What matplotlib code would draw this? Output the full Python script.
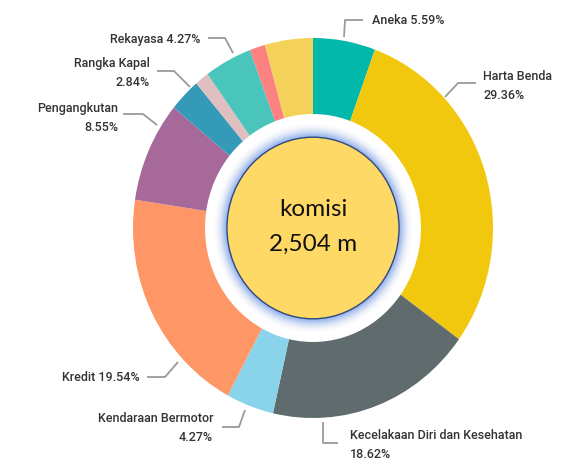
import matplotlib
matplotlib.use("Agg")
import matplotlib.pyplot as plt
from matplotlib.patches import Circle

categories = ["Aneka", "Harta Benda", "Kecelakaan Diri dan Kesehatan", "Kendaraan Bermotor",
              "Kredit", "Pengangkutan", "Rangka Kapal", "Lainnya A", "Rekayasa", "Lainnya B", "Lainnya C"]
values = [5.59, 29.36, 18.62, 4.27, 19.54, 8.55, 2.84, 1.26, 4.27, 1.40, 4.30]
colors = ["#01B8AA", "#F2C80F", "#5F6B6D", "#8AD4EB", "#FE9666", "#A66999",
          "#3599B8", "#DFBFBF", "#4AC5BB", "#FB8281", "#F4D25A"]
label_texts = ["Aneka 5.59%", "Harta Benda\n29.36%", "Kecelakaan Diri dan Kesehatan\n18.62%",
               "Kendaraan Bermotor\n4.27%", "Kredit 19.54%", "Pengangkutan\n8.55%",
               "Rangka Kapal\n2.84%", "", "Rekayasa 4.27%", "", ""]
center_title = "komisi"
center_value = "2,504 m"

W, H = 585, 461
fig = plt.figure(figsize=(W / 100, H / 100), dpi=100)
fig.patch.set_facecolor("white")

# pie axes (pixel box of the donut)
cx, cy, rx, ry = 313, 228, 180, 190
pax = fig.add_axes([(cx - rx) / W, (H - (cy + ry)) / H, 2 * rx / W, 2 * ry / H])
pax.pie(values, colors=colors, startangle=90, counterclock=False, radius=1.0,
        wedgeprops=dict(width=0.40, linewidth=0))
pax.set_aspect("auto")
pax.set_xlim(-1, 1)
pax.set_ylim(-1, 1)
pax.axis("off")

# glow and center circle
r_in = 0.478
n = 16
for i in range(n):
    r = 0.55 - (0.55 - r_in) * i / n
    a = 0.04 + 0.6 * (i / n) ** 2
    pax.add_patch(Circle((0, 0), r, facecolor="#7FA3EE", edgecolor="none", alpha=a * 0.4))
pax.add_patch(Circle((0, 0), r_in, facecolor="#FFD966", edgecolor="#2F4A7A", linewidth=1.0, zorder=5))
pax.text(0, 0.095, center_title, ha="center", va="center", fontsize=17.5, family="Lato", color="#111111", zorder=6)
pax.text(0, -0.085, center_value, ha="center", va="center", fontsize=17.5, family="Lato", color="#111111", zorder=6)

# overlay axes in pixel coordinates for labels
ax = fig.add_axes([0, 0, 1, 1])
ax.set_xlim(0, W)
ax.set_ylim(H, 0)
ax.axis("off")
ax.patch.set_alpha(0)

lc = "#9A9A9A"
lw = 1.3
tc = "#333333"
fs = 9.0
fam = "Roboto"

# leader lines (pixel paths)
leaders = {
    0: ([344, 345, 363], [37, 20, 20]),
    1: ([445, 458, 476], [97, 83, 83]),
    2: ([323, 323, 338], [422, 443, 443]),
    3: ([245, 239, 222], [410, 427, 427]),
    4: ([178, 165, 147], [362, 377, 377]),
    5: ([157, 143, 123], [125, 114, 114]),
    6: ([190, 174, 157], [87, 71, 71]),
    8: ([233, 225, 208], [53, 38, 38]),
}
for k, (xs, ys) in leaders.items():
    ax.plot(xs, ys, color=lc, lw=lw, solid_capstyle="butt")

text_pos = {
    0: (372, 21, "left"),
    1: (483, 86, "left"),
    2: (350, 445, "left"),
    3: (213, 428, "right"),
    4: (140, 377, "right"),
    5: (118, 118, "right"),
    6: (150, 73, "right"),
    8: (200, 39, "right"),
}
for k, (x, y, ha) in text_pos.items():
    ax.text(x, y, label_texts[k], ha=ha, va="center", fontsize=fs, family=fam,
            fontweight="medium", color=tc, linespacing=1.65, multialignment=ha)

fig.savefig("out.png", dpi=100)
